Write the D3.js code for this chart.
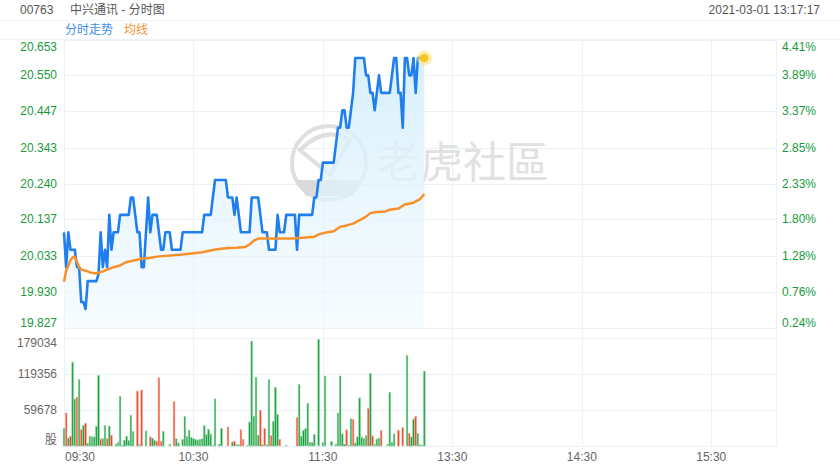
<!DOCTYPE html>
<html>
<head>
<meta charset="utf-8">
<script src="https://cdn.jsdelivr.net/npm/d3@7/dist/d3.min.js"></script>
<style>
  body { margin: 0; background: #fff; }
  svg { display: block; font-family: "Liberation Sans", Arial, "Noto Sans CJK SC", sans-serif; }
</style>
</head>
<body>
<div id="chart"></div>
<script>
var W = 840, H = 470;

// data
var priceTicks = [19.827, 19.930, 20.033, 20.137, 20.240, 20.343, 20.447, 20.550, 20.653];
var pctTicks = ["0.24%", "0.76%", "1.28%", "1.80%", "2.33%", "2.85%", "3.37%", "3.89%", "4.41%"];
var volTicks = [0, 59678, 119356, 179034];
var timeLabels = ["09:30", "10:30", "11:30", "13:30", "14:30", "15:30"];
var timeMinutes = [0, 60, 120, 180, 240, 300];

// one value per minute, 09:30 -> 13:17
var price = [
  20.10, 20.00, 20.10, 20.05, 20.05, 20.05, 20.00, 20.00, 19.90, 19.90,
  19.88, 19.96, 19.96, 19.96, 19.96, 19.96, 19.98, 20.10, 20.00, 20.05,
  20.00, 20.15, 20.05, 20.10, 20.10, 20.10, 20.15, 20.15, 20.15, 20.15,
  20.15, 20.20, 20.20, 20.15, 20.10, 20.10, 20.00, 20.00, 20.10, 20.20,
  20.10, 20.15, 20.15, 20.15, 20.10, 20.05, 20.05, 20.10, 20.10, 20.10,
  20.05, 20.05, 20.05, 20.05, 20.05, 20.10, 20.10, 20.10, 20.10, 20.10,
  20.10, 20.10, 20.10, 20.10, 20.10, 20.15, 20.15, 20.15, 20.15, 20.20,
  20.25, 20.25, 20.25, 20.25, 20.25, 20.25, 20.20, 20.20, 20.20, 20.15,
  20.20, 20.15, 20.10, 20.10, 20.10, 20.10, 20.10, 20.20, 20.20, 20.20,
  20.20, 20.15, 20.10, 20.10, 20.10, 20.05, 20.05, 20.05, 20.05, 20.15,
  20.10, 20.10, 20.10, 20.15, 20.15, 20.15, 20.15, 20.15, 20.05, 20.15,
  20.15, 20.15, 20.15, 20.15, 20.15, 20.15, 20.20, 20.20, 20.25, 20.25,
  20.30, 20.30, 20.30, 20.30, 20.30, 20.30, 20.35, 20.40, 20.40, 20.45,
  20.45, 20.40, 20.40, 20.45, 20.50, 20.60, 20.60, 20.60, 20.60, 20.60,
  20.55, 20.55, 20.50, 20.50, 20.45, 20.50, 20.55, 20.50, 20.50, 20.50,
  20.50, 20.50, 20.55, 20.60, 20.60, 20.50, 20.50, 20.40, 20.60, 20.60,
  20.55, 20.55, 20.60, 20.50, 20.60, 20.60, 20.60, 20.60
];

// average line, read at these minutes
var avgMinutes = [0, 1, 2, 3, 4, 5, 6, 7, 8, 10, 12, 15, 18, 20, 23, 26, 29, 33, 36, 40,
  44, 48, 52, 56, 60, 64, 69, 72, 76, 80, 84, 86, 88, 90, 96, 100, 106, 112, 116, 118,
  122, 125, 128, 130, 134, 137, 140, 142, 145, 149, 151, 155, 157, 158, 162, 165, 167];
var avgValues = [19.958, 19.99, 20.005, 20.02, 20.028, 20.03, 20.015, 20.00, 19.993, 19.99, 19.985, 19.982, 19.988, 19.993, 20.00, 20.005, 20.015, 20.02, 20.024, 20.027,
  20.031, 20.033, 20.035, 20.037, 20.04, 20.043, 20.049, 20.052, 20.055, 20.056, 20.058, 20.065, 20.076, 20.082, 20.082, 20.082, 20.082, 20.085, 20.087, 20.094,
  20.10, 20.103, 20.116, 20.118, 20.125, 20.135, 20.145, 20.155, 20.158, 20.16, 20.165, 20.168, 20.176, 20.18, 20.185, 20.195, 20.21];

var volume = [
  28700, 54700, 13000, 16000, 139000, 78000, 81000, 110000, 27000, 34000,
  38000, 4000, 16000, 15000, 15000, 32600, 117000, 12000, 12000, 34000,
  12000, 33000, 17700, 0, 3000, 5500, 82000, 1000, 9000, 16000,
  9000, 51000, 24000, 0, 91000, 3000, 93000, 0, 25000, 0,
  15000, 13000, 9000, 8000, 113000, 8000, 24000, 0, 0, 3000,
  0, 74000, 12000, 5000, 0, 11000, 49000, 16000, 26000, 14000,
  12000, 11000, 10000, 11000, 12000, 34000, 19000, 27600, 20000, 1000,
  78000, 0, 3000, 29000, 0, 0, 31500, 0, 6600, 7700,
  3000, 2000, 27000, 11000, 0, 1000, 40000, 174000, 49000, 114000,
  17700, 59000, 2000, 29000, 2000, 110000, 17000, 41000, 97000, 52000,
  11000, 0, 0, 1000, 0, 0, 0, 0, 47000, 102000,
  16000, 26000, 29000, 71000, 5500, 5500, 19000, 0, 177000, 0,
  5500, 116000, 0, 0, 7700, 0, 3000, 54700, 116000, 20000,
  3000, 27000, 1000, 45000, 44000, 5000, 15000, 80000, 15000, 12000,
  17000, 62000, 120000, 17000, 3000, 11600, 13000, 26000, 0, 0,
  3000, 89000, 6000, 20000, 0, 26000, 0, 31000, 0, 150000,
  21000, 15000, 45000, 49000, 21000, 2000, 1000, 124000
];
// minutes whose volume bar is red
var downMinutes = [1, 3, 6, 8, 10, 17, 20, 22, 34, 36, 40, 43, 44, 45, 51, 76, 79, 82, 83, 91,
  93, 96, 100, 108, 131, 134, 141, 143, 147, 155, 157, 160, 163];

var left = 64, right = 776;
var x = d3.scaleLinear().domain([0, 330]).range([left, right]);
var yP = d3.scaleLinear().domain([19.827, 20.653]).range([327.5, 39.5]);
var yV = d3.scaleLinear().domain([0, 179034]).range([446, 338]);

var svg = d3.select("#chart").append("svg").attr("width", W).attr("height", H);

var gridColor = "#e8f2f8";

// header
svg.append("line").attr("x1", 0).attr("x2", W).attr("y1", 20.5).attr("y2", 20.5).attr("stroke", "#eef5fa");
svg.append("line").attr("x1", 0).attr("x2", W).attr("y1", 39.5).attr("y2", 39.5).attr("stroke", "#eef5fa");
svg.append("text").attr("x", 20).attr("y", 14).attr("font-size", 12).attr("fill", "#555").text("00763");
svg.append("text").attr("x", 70).attr("y", 14).attr("font-size", 12).attr("fill", "#555").text("中兴通讯 - 分时图");
svg.append("text").attr("x", 820).attr("y", 14).attr("font-size", 12).attr("fill", "#555")
  .attr("text-anchor", "end").text("2021-03-01 13:17:17");
svg.append("text").attr("x", 65).attr("y", 34).attr("font-size", 12).attr("fill", "#3d8ee8").text("分时走势");
svg.append("text").attr("x", 124).attr("y", 34).attr("font-size", 12).attr("fill", "#f5922f").text("均线");

// grids
var grid = svg.append("g").attr("stroke", gridColor).attr("shape-rendering", "crispEdges");
grid.selectAll(".hp").data(priceTicks).enter().append("line")
  .attr("x1", left).attr("x2", right)
  .attr("y1", function(d) { return Math.round(yP(d)) + 0.5; })
  .attr("y2", function(d) { return Math.round(yP(d)) + 0.5; });
grid.selectAll(".hv").data(volTicks).enter().append("line")
  .attr("x1", left).attr("x2", right)
  .attr("y1", function(d) { return Math.round(yV(d)) + 0.5; })
  .attr("y2", function(d) { return Math.round(yV(d)) + 0.5; });
grid.selectAll(".vt").data(timeMinutes.concat([330])).enter().append("line")
  .attr("x1", function(d) { return Math.round(x(d)) + 0.5; })
  .attr("x2", function(d) { return Math.round(x(d)) + 0.5; })
  .attr("y1", yP.range()[1]).attr("y2", yV(0));

// watermark
var wm = svg.append("g").attr("opacity", 0.9);
wm.append("circle").attr("cx", 329).attr("cy", 163).attr("r", 37)
  .attr("fill", "none").attr("stroke", "#dcdcdc").attr("stroke-width", 4);
wm.append("path").attr("d", "M300,150 Q325,125 350,140 L330,175 Z").attr("fill", "none")
  .attr("stroke", "#dcdcdc").attr("stroke-width", 4);
wm.append("path").attr("d", "M296,180 L362,180 L352,196 L306,196 Z").attr("fill", "#d6d6d6");
wm.append("text").attr("x", 377).attr("y", 178).attr("font-size", 43)
  .attr("font-family", "Noto Sans CJK SC").attr("fill", "#dedede").text("老虎社區");

// area + price line
var defs = svg.append("defs");
var grad = defs.append("linearGradient").attr("id", "fillg").attr("x1", 0).attr("x2", 0).attr("y1", 0).attr("y2", 1);
grad.append("stop").attr("offset", "0%").attr("stop-color", "#d5eefc").attr("stop-opacity", 0.95);
grad.append("stop").attr("offset", "100%").attr("stop-color", "#eef8fe").attr("stop-opacity", 0.5);

var area = d3.area()
  .x(function(d, i) { return x(i); })
  .y0(yP.range()[0])
  .y1(function(d) { return yP(d); });
svg.append("path").datum(price).attr("d", area).attr("fill", "url(#fillg)");

var line = d3.line()
  .x(function(d, i) { return x(i); })
  .y(function(d) { return yP(d); });
svg.append("path").datum(price).attr("d", line)
  .attr("fill", "none").attr("stroke", "#1f7ff0").attr("stroke-width", 2.6).attr("stroke-linejoin", "round");

var avgLine = d3.line()
  .x(function(d, i) { return x(avgMinutes[i]); })
  .y(function(d) { return yP(d); });
svg.append("path").datum(avgValues).attr("d", avgLine)
  .attr("fill", "none").attr("stroke", "#f8912b").attr("stroke-width", 2.5).attr("stroke-linejoin", "round");

// end point
var lastI = price.length - 1;
svg.append("circle").attr("cx", x(lastI)).attr("cy", yP(price[lastI])).attr("r", 7.5)
  .attr("fill", "#fbe27a").attr("opacity", 0.6);
svg.append("circle").attr("cx", x(lastI)).attr("cy", yP(price[lastI])).attr("r", 4)
  .attr("fill", "#f7c51c");

// volume bars
var downSet = {};
downMinutes.forEach(function(m) { downSet[m] = true; });
svg.append("g").selectAll("rect").data(volume).enter().append("rect")
  .attr("x", function(d, i) { return x(i) - 0.8; })
  .attr("width", 1.6)
  .attr("y", function(d) { return yV(d); })
  .attr("height", function(d) { return yV(0) - yV(d); })
  .attr("fill", function(d, i) { return downSet[i] ? "#f03a1c" : "#14a03a"; })
  .attr("stroke", function(d, i) { return downSet[i] ? "#f7a493" : "#8fd3a0"; })
  .attr("stroke-width", 0.6);

// left price labels
svg.append("g").selectAll("text").data(priceTicks).enter().append("text")
  .attr("x", 57).attr("text-anchor", "end").attr("font-size", 12).attr("fill", "#169b3a")
  .attr("y", function(d, i) {
    var y = yP(d);
    if (i === priceTicks.length - 1) y += 7;
    if (i === 0) y -= 5;
    return y + 4;
  })
  .text(function(d) { return d.toFixed(3); });

// right percent labels
svg.append("g").selectAll("text").data(pctTicks).enter().append("text")
  .attr("x", 782).attr("font-size", 12).attr("fill", "#169b3a")
  .attr("y", function(d, i) {
    var y = yP(priceTicks[i]);
    if (i === pctTicks.length - 1) y += 7;
    if (i === 0) y -= 5;
    return y + 4;
  })
  .text(function(d) { return d; });

// volume labels
svg.append("g").selectAll("text").data(volTicks).enter().append("text")
  .attr("x", 57).attr("text-anchor", "end").attr("font-size", 12).attr("fill", "#666")
  .attr("y", function(d, i) {
    var y = yV(d);
    if (i === volTicks.length - 1) y += 5;
    if (i === 0) y -= 6;
    return y + 4;
  })
  .text(function(d, i) { return i === 0 ? "股" : d; });

// time labels
svg.append("g").selectAll("text").data(timeLabels).enter().append("text")
  .attr("x", function(d, i) { return i === 0 ? x(timeMinutes[i]) + 1 : x(timeMinutes[i]); })
  .attr("text-anchor", function(d, i) { return i === 0 ? "start" : "middle"; })
  .attr("y", 461).attr("font-size", 12).attr("fill", "#666")
  .text(function(d) { return d; });
</script>
</body>
</html>
